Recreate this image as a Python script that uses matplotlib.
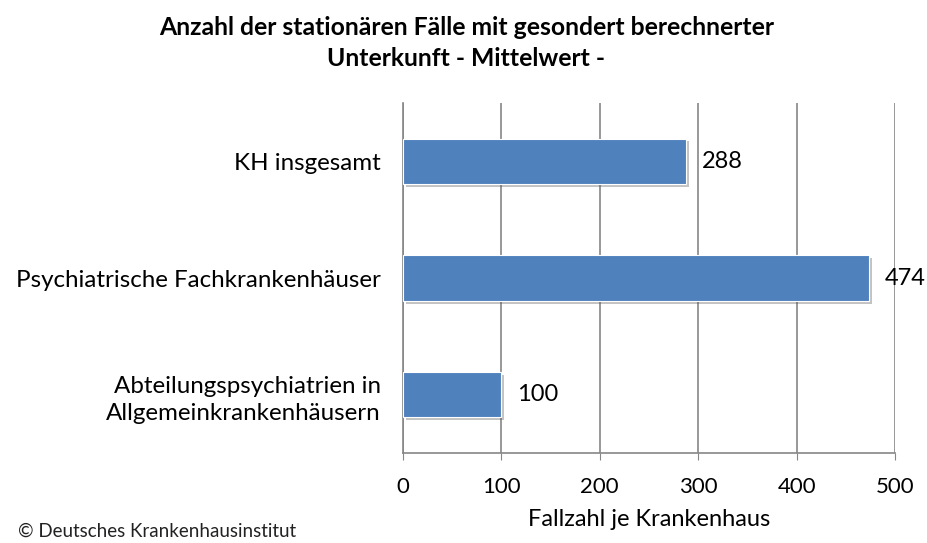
import matplotlib
matplotlib.use("Agg")
import matplotlib.pyplot as plt
import matplotlib.patheffects as pe

plt.rcParams['font.family'] = ['Lato', 'DejaVu Sans']

categories = ["Abteilungspsychiatrien in\nAllgemeinkrankenhäusern",
              "Psychiatrische Fachkrankenhäuser",
              "KH insgesamt"]
values = [100, 474, 288]
xticks = [0, 100, 200, 300, 400, 500]
title = "Anzahl der stationären Fälle mit gesondert berechnerter\nUnterkunft - Mittelwert -"
xlabel = "Fallzahl je Krankenhaus"
footer = "© Deutsches Krankenhausinstitut"

fig = plt.figure(figsize=(9.27, 5.43), dpi=100)
ax = fig.add_axes([0.4347, 0.1657, 0.5308, 0.6446])

ypos = list(range(len(categories)))
bars = ax.barh(ypos, values, height=0.39, color="#4F81BD", edgecolor="white",
               linewidth=0.8, zorder=3)
for b in bars:
    b.set_path_effects([pe.SimplePatchShadow(offset=(2, -2), alpha=0.35, shadow_rgbFace="#555555"), pe.Normal()])

for y, v in zip(ypos, values):
    ax.text(v + 16, y, str(v), va="center", ha="left", fontsize=17, color="black")

ax.set_xlim(0, 500)
ax.set_ylim(-0.5, 2.5)
ax.set_xticks(xticks)
ax.set_xticklabels([str(t) for t in xticks], fontsize=16)
ax.set_yticks(ypos)
ax.set_yticklabels(categories, fontsize=17.4, linespacing=1.4)
ax.tick_params(axis='y', length=0, pad=16)
ax.tick_params(axis='x', length=5, color="#868686", pad=12, direction='out')
ax.xaxis.grid(True, color="#868686", linewidth=1.2, zorder=0)
ax.set_axisbelow(True)
for s in ["top", "right"]:
    ax.spines[s].set_visible(False)
ax.spines["left"].set_color("#868686")
ax.spines["left"].set_linewidth(1.2)
ax.spines["bottom"].set_color("#868686")
ax.spines["bottom"].set_linewidth(1.2)
ax.set_xlabel(xlabel, fontsize=17, labelpad=9)

fig.text(0.503, 0.921, title, ha="center", va="center", fontsize=17.8,
         fontweight="bold", linespacing=1.45)
fig.text(0.019, 0.006, footer, ha="left", va="bottom", fontsize=13.5, color="#222222")

fig.savefig("out.png", dpi=100)
